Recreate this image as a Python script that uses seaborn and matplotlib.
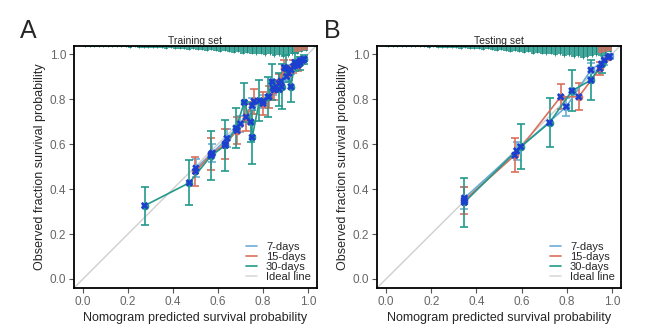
import numpy as np
import pandas as pd
import matplotlib
matplotlib.use('Agg')
import matplotlib.pyplot as plt
import seaborn as sns

# ---- data ----
series_names = ['7-days', '15-days', '30-days']

# Training set
train_x_7 = [0.502, 0.575, 0.640, 0.700, 0.752, 0.800, 0.845, 0.880, 0.905, 0.925, 0.945, 0.965, 0.982]
train_y_7 = [0.493, 0.560, 0.625, 0.690, 0.770, 0.790, 0.850, 0.880, 0.900, 0.930, 0.950, 0.970, 0.978]
train_e_7 = [0.040, 0.040, 0.040, 0.035, 0.035, 0.030, 0.030, 0.030, 0.025, 0.020, 0.020, 0.015, 0.010]

train_x_15 = [0.500, 0.570, 0.632, 0.685, 0.725, 0.760, 0.800, 0.826, 0.850, 0.872, 0.895, 0.915, 0.935, 0.955, 0.975]
train_y_15 = [0.478, 0.555, 0.600, 0.660, 0.720, 0.790, 0.780, 0.810, 0.840, 0.870, 0.940, 0.915, 0.945, 0.950, 0.972]
train_e_15 = [0.065, 0.070, 0.065, 0.060, 0.060, 0.055, 0.050, 0.050, 0.045, 0.040, 0.035, 0.030, 0.030, 0.025, 0.015]

train_x_30 = [0.274, 0.473, 0.569, 0.633, 0.680, 0.717, 0.745, 0.752, 0.784, 0.824, 0.841, 0.872, 0.883, 0.902, 0.924, 0.942, 0.964, 0.982]
train_y_30 = [0.326, 0.428, 0.548, 0.594, 0.671, 0.785, 0.698, 0.630, 0.793, 0.810, 0.877, 0.843, 0.855, 0.936, 0.855, 0.963, 0.959, 0.976]
train_e_30 = [0.085, 0.100, 0.110, 0.115, 0.090, 0.085, 0.090, 0.120, 0.090, 0.090, 0.080, 0.075, 0.100, 0.060, 0.070, 0.040, 0.030, 0.020]

# Testing set
test_x_7 = [0.347, 0.578, 0.798, 0.907, 0.966, 0.990]
test_y_7 = [0.360, 0.570, 0.766, 0.929, 0.973, 0.990]
test_e_7 = [0.050, 0.040, 0.040, 0.030, 0.020, 0.010]

test_x_15 = [0.347, 0.570, 0.773, 0.853, 0.947, 0.984]
test_y_15 = [0.350, 0.550, 0.810, 0.810, 0.936, 0.985]
test_e_15 = [0.060, 0.075, 0.055, 0.060, 0.030, 0.012]

test_x_30 = [0.347, 0.596, 0.724, 0.823, 0.907, 0.954]
test_y_30 = [0.341, 0.588, 0.695, 0.837, 0.884, 0.956]
test_e_30 = [0.110, 0.100, 0.110, 0.090, 0.090, 0.040]

# rug at the top: bar heights (relative) for 50 bins of predicted probability
rug_bins = np.arange(0.01, 1.0, 0.02)
train_rug = [1, 1, 1, 1, 1, 1, 1, 1, 1, 1, 2, 1, 2, 2, 2, 2, 2, 2, 3, 2,
             3, 3, 3, 4, 3, 4, 4, 5, 4, 5, 6, 5, 6, 7, 6, 8, 7, 8, 9, 8,
             10, 9, 11, 10, 12, 11, 9, 8, 6, 5]
test_rug = [1, 1, 1, 1, 1, 1, 1, 1, 1, 2, 1, 2, 2, 2, 2, 2, 3, 2, 3, 3,
            3, 4, 3, 4, 5, 4, 5, 6, 5, 6, 7, 6, 8, 7, 8, 9, 8, 10, 9, 11,
            10, 12, 11, 13, 12, 11, 10, 9, 8, 6]

colors = {'7-days': '#6aaed6', '15-days': '#db6f5e', '30-days': '#23998b'}
xmark = '#1d3fd0'

sns.set_style('white')
plt.rcParams['font.family'] = ['Liberation Sans', 'DejaVu Sans']

fig = plt.figure(figsize=(6.69, 3.26), dpi=100)
ax1 = fig.add_axes([0.1106, 0.1166, 0.3632, 0.7424])
ax2 = fig.add_axes([0.5635, 0.1166, 0.3647, 0.7424])


def panel(ax, title, data, rug):
    lo, hi = -0.04, 1.036
    ax.plot([lo, 1.04], [lo, 1.04], color='#cfcfcf', lw=1.0, zorder=1)
    # rug of predictions hanging from the top
    h = np.array(rug) * 0.0042
    ax.bar(rug_bins, h, bottom=hi - h, width=0.02, color=colors['30-days'],
           alpha=0.85, linewidth=0, zorder=2)
    ax.vlines(rug_bins, hi - h * 1.1, hi, color='#1b7f73', lw=0.6, zorder=2)
    right = rug_bins > 0.94
    ax.bar(rug_bins[right], h[right] * 0.8, bottom=hi - h[right] * 0.8, width=0.02,
           color=colors['15-days'], alpha=0.8, linewidth=0, zorder=2)
    rows = []
    for name, (xs, ys, es) in data.items():
        for x, y, e in zip(xs, ys, es):
            rows.append({'x': x, 'y': y, 'e': e, 'series': name})
    df = pd.DataFrame(rows)
    for name in series_names:
        d = df[df['series'] == name]
        ax.errorbar(d['x'], d['y'], yerr=d['e'], fmt='none', ecolor=colors[name],
                    elinewidth=1.2, capsize=3, capthick=1.2, zorder=3)
    sns.lineplot(data=df, x='x', y='y', hue='series', hue_order=series_names,
                 palette=colors, sort=False, estimator=None, lw=1.2,
                 marker='o', markersize=5.5, markeredgewidth=0, ax=ax,
                 legend=False, zorder=4)
    sns.scatterplot(data=df, x='x', y='y', marker='X', color=xmark, s=30,
                    edgecolor='none', ax=ax, zorder=5, legend=False)
    ax.set_xlim(lo, 1.04)
    ax.set_ylim(lo, hi)
    ax.set_xticks([0, 0.2, 0.4, 0.6, 0.8, 1.0])
    ax.set_yticks([0, 0.2, 0.4, 0.6, 0.8, 1.0])
    ax.set_xticklabels(['0.0', '0.2', '0.4', '0.6', '0.8', '1.0'])
    ax.set_yticklabels(['0.0', '0.2', '0.4', '0.6', '0.8', '1.0'])
    ax.tick_params(axis='both', direction='out', length=3.5, width=0.8,
                   color='#555555', labelcolor='#666666', labelsize=8.5, pad=2,
                   bottom=True, left=True)
    for s in ax.spines.values():
        s.set_color('black')
        s.set_linewidth(1.3)
    ax.set_title(title, fontsize=7.5, pad=1.5)
    ax.set_xlabel('Nomogram predicted survival probability', fontsize=9, labelpad=3)
    ax.set_ylabel('Observed fraction survival probability', fontsize=9, labelpad=3)
    handles = [plt.Line2D([], [], color=colors[n], lw=1.2) for n in series_names]
    handles.append(plt.Line2D([], [], color='#d9d9d9', lw=1.2))
    ax.legend(handles, series_names + ['Ideal line'], loc='lower right', frameon=False,
              fontsize=8, handlelength=1.0, handletextpad=0.8, labelspacing=0.0,
              borderaxespad=0.15)


panel(ax1, 'Training set',
      {'7-days': (train_x_7, train_y_7, train_e_7),
       '15-days': (train_x_15, train_y_15, train_e_15),
       '30-days': (train_x_30, train_y_30, train_e_30)}, train_rug)
panel(ax2, 'Testing set',
      {'7-days': (test_x_7, test_y_7, test_e_7),
       '15-days': (test_x_15, test_y_15, test_e_15),
       '30-days': (test_x_30, test_y_30, test_e_30)}, test_rug)

fig.text(0.042, 0.905, 'A', fontsize=18, ha='center', va='center')
fig.text(0.497, 0.905, 'B', fontsize=18, ha='center', va='center')

fig.savefig('out.png', dpi=100)
